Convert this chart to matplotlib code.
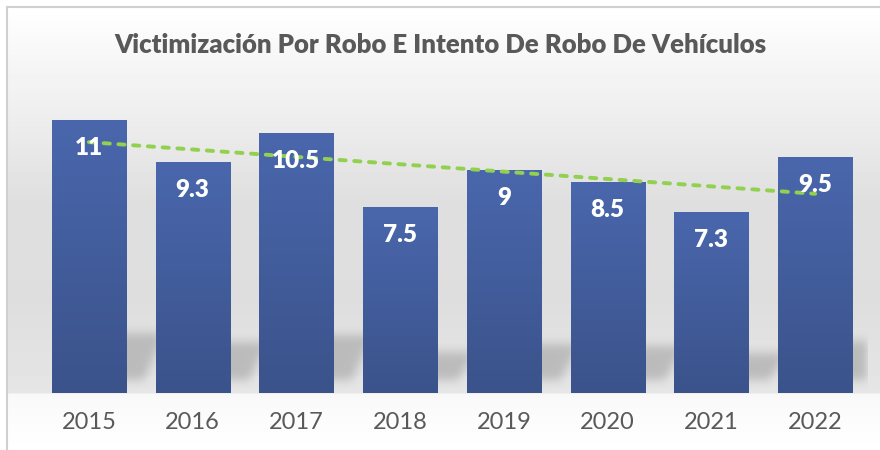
import numpy as np
import matplotlib.pyplot as plt
from matplotlib.colors import LinearSegmentedColormap

years = ["2015", "2016", "2017", "2018", "2019", "2020", "2021", "2022"]
values = [11, 9.3, 10.5, 7.5, 9, 8.5, 7.3, 9.5]
title = "Victimización Por Robo E Intento De Robo De Vehículos"

plt.rcParams['font.family'] = ['Lato', 'DejaVu Sans']

W, H = 880, 450
fig = plt.figure(figsize=(W / 100, H / 100), dpi=100)

# soft grey background, like the office chart style
bg = fig.add_axes([0, 0, 1, 1])
bg.set_axis_off()
rows = np.arange(H)
shade = np.interp(rows, [0, 8, 60, 120, 200, 300, 392, 394, 450],
                  [1.0, 1.0, 0.965, 0.93, 0.875, 0.87, 0.9, 0.975, 1.0])
img = np.repeat(shade[:, None], W, axis=1)
img[:, :7] = 1.0
img[:7, :] = 1.0
bg.imshow(img, cmap='gray', vmin=0, vmax=1, aspect='auto', extent=[0, W, H, 0])
bg.plot([7, 7], [7, H], color='#d0d0d0', lw=1.5)
bg.plot([7, W], [7, 7], color='#d0d0d0', lw=1.5)
bg.set_xlim(0, W)
bg.set_ylim(H, 0)

ax = fig.add_axes([37 / W, 57 / H, 830 / W, 310 / H])
ax.patch.set_alpha(0)
x = np.arange(len(values))
width = 0.715
ytop = 12.5

# blurred shadows cast to the lower right of each bar
gx = np.linspace(-0.5, len(values) - 0.5, 830)
gy = np.linspace(0, ytop, 310)
XX, YY = np.meshgrid(gx, gy)
mask = np.zeros_like(XX)
for xi, v in zip(x, values):
    top = 0.22 * v
    shift = 0.25 * YY / max(top, 1e-6)
    inside = ((XX > xi - width / 2 + 0.15 + shift) & (XX < xi + width / 2 + 0.12 + shift)
              & (YY > 0.5) & (YY < top))
    mask = np.maximum(mask, inside.astype(float))
k = np.ones(11) / 11
for _ in range(2):
    mask = np.apply_along_axis(lambda r: np.convolve(r, k, mode='same'), 1, mask)
    mask = np.apply_along_axis(lambda c: np.convolve(c, k, mode='same'), 0, mask)
shadow = np.zeros(mask.shape + (4,))
shadow[..., :3] = 0.7
shadow[..., 3] = mask * 0.8
ax.imshow(shadow, extent=[gx[0], gx[-1], 0, ytop], origin='lower', aspect='auto', zorder=1)

bars = ax.bar(x, values, width=width, color='#4563a5', zorder=3)
bar_cmap = LinearSegmentedColormap.from_list('barblue', ['#3b538b', '#4a67ad'])
grad = np.linspace(0, 1, 256)[:, None]
for b in bars:
    im = ax.imshow(grad, cmap=bar_cmap, origin='lower', aspect='auto',
                   extent=[b.get_x(), b.get_x() + b.get_width(), 0, b.get_height()], zorder=3.5)
    im.set_clip_path(b)

# linear trend line
coef = np.polyfit(x, values, 1)
ax.plot(x, np.polyval(coef, x), color='#92d050', lw=2.8, linestyle=(0, (1.6, 2.2)),
        dash_capstyle='round', zorder=4)

for xi, v in zip(x, values):
    ax.text(xi, v - 1.13, f"{v:g}", ha='center', va='center', color='white',
            fontsize=17.5, fontweight='heavy', zorder=5)

ax.set_xlim(-0.5, len(values) - 0.5)
ax.set_ylim(0, ytop)
ax.set_xticks(x, years)
ax.set_yticks([])
ax.tick_params(axis='x', length=0, labelsize=17, labelcolor='#595959', pad=14)
for s in ax.spines.values():
    s.set_visible(False)

fig.text(0.5, 1 - 45 / H, title, ha='center', va='center', fontsize=18.5,
         fontweight='heavy', color='#595959')

fig.savefig('out.png', dpi=100)
